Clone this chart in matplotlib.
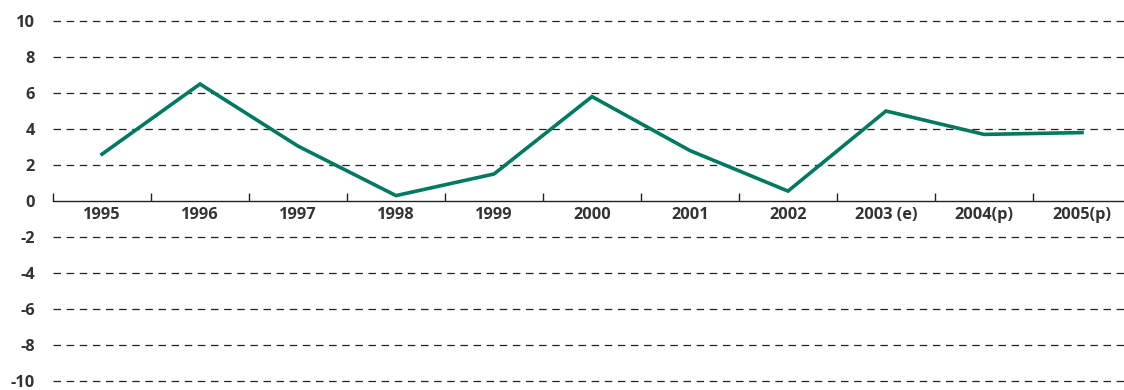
import matplotlib

matplotlib.use("Agg")
import matplotlib.pyplot as plt
import numpy as np

# Annual growth (%)
years = ["1995", "1996", "1997", "1998", "1999", "2000",
         "2001", "2002", "2003 (e)", "2004(p)", "2005(p)"]
growth = [2.6, 6.5, 3.05, 0.3, 1.5, 5.8, 2.8, 0.55, 5.0, 3.7, 3.8]
y_ticks = [10, 8, 6, 4, 2, 0, -2, -4, -6, -8, -10]

LINE_GREEN = "#007a5e"
TEXT = "#333333"

plt.rcParams["font.family"] = ["Open Sans", "DejaVu Sans"]

W, H = 1124, 390
fig = plt.figure(figsize=(W / 100, H / 100), dpi=100)
left, right = 53 / W, 1131 / W
top, bottom = 21 / H, 381 / H
ax = fig.add_axes([left, 1 - bottom, right - left, bottom - top])

n = len(years)
centers = np.arange(n) + 0.5
ax.plot(centers, growth, color=LINE_GREEN, linewidth=2.6,
        solid_joinstyle="miter", zorder=3)

ax.set_xlim(0, n)
ax.set_ylim(-10, 10)

# dashed gridlines everywhere except zero (zero gets the solid axis line)
for v in y_ticks:
    if v != 0:
        ax.axhline(v, color="#222222", linewidth=0.9,
                   dashes=(6, 4.5), zorder=1, clip_on=False)

for s in ("left", "right", "top"):
    ax.spines[s].set_visible(False)
ax.spines["bottom"].set_position(("data", 0))
ax.spines["bottom"].set_color("#222222")
ax.spines["bottom"].set_linewidth(1.0)

# category boundary ticks on the zero line, labels centred between them
ax.set_xticks(np.arange(n + 1))
ax.set_xticklabels([])
ax.tick_params(axis="x", which="major", direction="in", length=6,
               width=1.0, color="#222222")
ax.set_xticks(centers, minor=True)
ax.set_xticklabels(years, minor=True)
ax.tick_params(axis="x", which="minor", length=0, pad=4,
               labelsize=11.8, labelcolor=TEXT)
for lab in ax.get_xticklabels(minor=True):
    lab.set_fontweight("bold")

ax.set_yticks(y_ticks)
ax.set_yticklabels([str(v) for v in y_ticks])
ax.tick_params(axis="y", length=0, pad=13, labelsize=11.8, labelcolor=TEXT)
for lab in ax.get_yticklabels():
    lab.set_fontweight("bold")

fig.savefig("out.png", dpi=100)
